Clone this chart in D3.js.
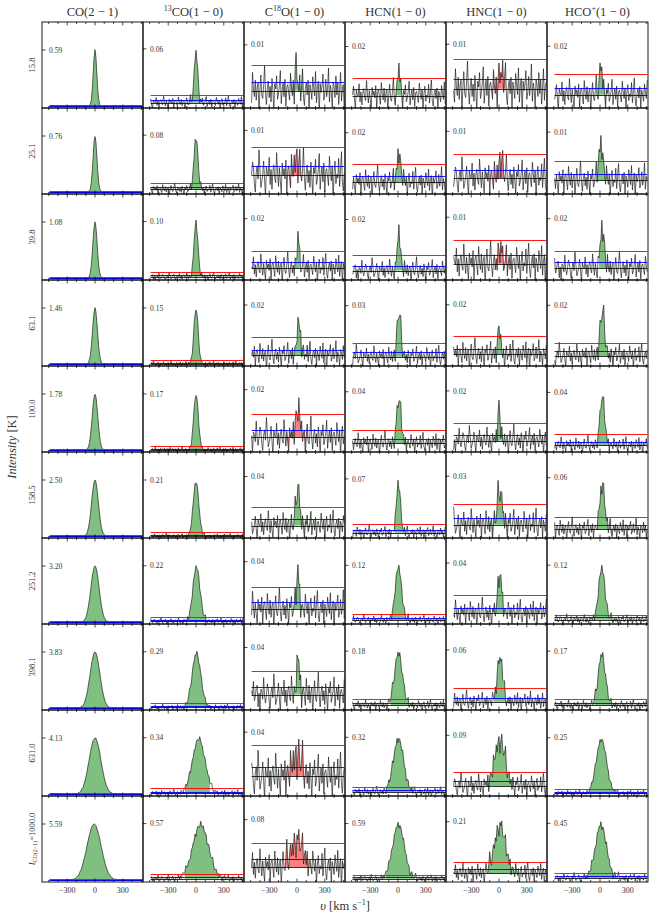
<!DOCTYPE html>
<html>
<head>
<meta charset="utf-8">
<script src="https://cdn.jsdelivr.net/npm/d3@7"></script>
<style>
  body { margin: 0; background: #fff; }
  svg text { font-family: "Liberation Serif", "DejaVu Serif", serif; font-weight: normal; fill: #333; }
</style>
</head>
<body>
<svg id="chart" width="656" height="921"></svg>
<script>
// column titles, pieces marked sup are raised
const columnTitles = [
  [{ text: "CO(2 − 1)" }],
  [{ text: "13", sup: true }, { text: "CO(1 − 0)" }],
  [{ text: "C" }, { text: "18", sup: true }, { text: "O(1 − 0)" }],
  [{ text: "HCN(1 − 0)" }],
  [{ text: "HNC(1 − 0)" }],
  [{ text: "HCO" }, { text: "+", sup: true }, { text: "(1 − 0)" }]
];

const rowLabels = ["15.8", "25.1", "39.8", "63.1", "100.0", "158.5", "251.2", "398.1", "631.0", "1000.0"];

// peak tick value per panel [row][column]
const peakLabels = [
  [0.59, 0.06, 0.01, 0.02, 0.01, 0.02],
  [0.76, 0.08, 0.01, 0.02, 0.01, 0.01],
  [1.08, 0.10, 0.02, 0.02, 0.01, 0.02],
  [1.46, 0.15, 0.02, 0.03, 0.02, 0.02],
  [1.78, 0.17, 0.02, 0.04, 0.02, 0.04],
  [2.50, 0.21, 0.04, 0.07, 0.03, 0.06],
  [3.20, 0.22, 0.04, 0.12, 0.04, 0.12],
  [3.83, 0.29, 0.04, 0.18, 0.06, 0.17],
  [4.13, 0.34, 0.04, 0.32, 0.09, 0.25],
  [5.59, 0.57, 0.08, 0.59, 0.21, 0.45]
];

// line amplitude as a fraction of the peak tick
const ampFrac = [
  [1.00, 0.95, 0.55, 0.60, 0.35, 0.60],
  [1.00, 0.97, 0.40, 0.60, 0.45, 0.75],
  [1.00, 0.98, 0.65, 0.75, 0.40, 0.80],
  [1.00, 0.98, 0.60, 0.85, 0.60, 0.85],
  [1.00, 0.98, 0.55, 0.85, 0.70, 0.90],
  [1.00, 0.98, 0.80, 0.95, 0.70, 0.90],
  [1.00, 0.98, 0.80, 0.97, 0.75, 0.95],
  [1.00, 0.98, 0.75, 0.97, 0.85, 0.95],
  [1.00, 0.98, 0.50, 0.97, 0.90, 0.97],
  [1.00, 0.98, 0.55, 0.98, 0.92, 0.97]
];

// rms (blue line) as a fraction of the peak
const rmsFrac = [
  [0.004, 0.050, 0.19, 0.127, 0.215, 0.138],
  [0.004, 0.042, 0.21, 0.120, 0.170, 0.140],
  [0.004, 0.030, 0.12, 0.093, 0.176, 0.120],
  [0.004, 0.020, 0.11, 0.090, 0.116, 0.100],
  [0.004, 0.020, 0.155, 0.085, 0.114, 0.065],
  [0.004, 0.018, 0.127, 0.050, 0.138, 0.084],
  [0.004, 0.025, 0.157, 0.037, 0.110, 0.040],
  [0.004, 0.024, 0.164, 0.043, 0.080, 0.043],
  [0.004, 0.025, 0.22, 0.037, 0.100, 0.025],
  [0.004, 0.030, 0.16, 0.030, 0.086, 0.037]
];

// red threshold line as a fraction of the peak
const redFrac = [
  [0.015, 0.14, 0.55, 0.35, 0.66, 0.42],
  [0.015, 0.12, 0.63, 0.36, 0.51, 0.40],
  [0.015, 0.085, 0.35, 0.30, 0.51, 0.34],
  [0.015, 0.07, 0.36, 0.26, 0.37, 0.25],
  [0.015, 0.06, 0.49, 0.25, 0.36, 0.22],
  [0.015, 0.067, 0.38, 0.16, 0.43, 0.23],
  [0.015, 0.08, 0.47, 0.117, 0.36, 0.09],
  [0.015, 0.073, 0.50, 0.11, 0.27, 0.116],
  [0.015, 0.087, 0.70, 0.087, 0.27, 0.07],
  [0.015, 0.09, 0.50, 0.06, 0.22, 0.086]
];

// line width (FWHM, km/s) and centre (km/s)
const lineFwhm = [
  [45, 45, 30, 30, 60, 40],
  [50, 50, 60, 45, 50, 55],
  [55, 50, 30, 40, 40, 50],
  [62, 55, 50, 50, 30, 60],
  [70, 60, 60, 55, 30, 60],
  [85, 70, 45, 50, 60, 60],
  [105, 90, 35, 80, 50, 80],
  [125, 110, 40, 100, 70, 90],
  [150, 160, 100, 130, 130, 130],
  [180, 200, 150, 150, 140, 140]
];

const lineCenter = [
  [0, 0, -10, 10, 20, 10],
  [0, 0, 0, 10, 20, 10],
  [0, 0, 10, 10, 10, 25],
  [0, 0, 20, 10, 0, 25],
  [0, 0, 10, 10, 0, 25],
  [0, 0, 10, 5, 10, 25],
  [0, 5, 10, 5, 10, 20],
  [0, 5, 10, 5, 10, 20],
  [0, 30, 0, 5, 10, 15],
  [-10, 50, 0, 5, 10, 10]
];

// shaded window: g = detection (green), r = tentative (red)
const fillKind = [
  ["g", "g", "g", "g", "r", "g"],
  ["g", "g", "r", "g", "r", "g"],
  ["g", "g", "g", "g", "r", "g"],
  ["g", "g", "g", "g", "g", "g"],
  ["g", "g", "r", "g", "g", "g"],
  ["g", "g", "g", "g", "g", "g"],
  ["g", "g", "g", "g", "g", "g"],
  ["g", "g", "g", "g", "g", "g"],
  ["g", "g", "r", "g", "g", "g"],
  ["g", "g", "r", "g", "g", "g"]
];

const windowLo = [
  [-90, -90, -70, -40, -85, -40],
  [-100, -100, -90, -75, -85, -45],
  [-110, -100, -30, -40, -40, -10],
  [-120, -110, -70, -65, -40, -40],
  [-140, -120, -120, -65, -40, -40],
  [-160, -140, -75, -40, -110, -40],
  [-200, -170, -40, -85, -65, -65],
  [-240, -200, -40, -85, -65, -65],
  [-280, -120, -120, -130, -130, -130],
  [-330, -120, -130, -130, -130, -150]
];

const windowHi = [
  [90, 90, 70, 60, 75, 80],
  [100, 100, 60, 85, 75, 80],
  [110, 110, 35, 85, 110, 135],
  [120, 120, 140, 115, 50, 160],
  [140, 130, 125, 115, 50, 180],
  [160, 150, 150, 75, 115, 160],
  [200, 180, 60, 160, 70, 180],
  [240, 210, 75, 185, 115, 160],
  [280, 150, 105, 160, 160, 180],
  [330, 250, 150, 185, 190, 180]
];

// unit-rms channel noise, read off as a typical baseline ripple
const noiseSeq = [
  0.5, -0.1, 1.7, -0.8, -0.3, 0.9, 1.2, -1.6, 0.2, -2.1,
  0.7, 0.4, -0.6, 2.2, -0.2, -1.1, 0.0, 1.4, 0.8, -0.9,
  -1.8, 0.3, 1.0, -0.4, 2.7, 0.6, -1.3, -0.7, 0.1, 1.5,
  -0.5, -2.3, 0.9, 0.2, -0.1, 1.9, -1.0, 0.6, -1.5, 0.4,
  1.1, -0.3, -0.8, 2.4, 0.3, -1.2, 0.8, -0.6, -1.9, 1.3,
  0.0, 0.7, -0.4, 1.6, -2.0, 0.5, 1.0, -0.2, -1.4, 2.1,
  0.2, -0.7, 1.2, -1.1, 0.4, 0.9, -2.6, 0.1, 1.8, -0.5,
  -0.9, 0.6, 2.9, -0.3, -1.6, 0.3, 1.1, -0.8, 0.5, -1.3,
  1.4, -0.1, -2.2, 0.8, 0.2, 1.7, -1.0, -0.4, 0.6, 2.3,
  -1.5, 0.0, 0.9, -0.7, 1.3, -1.8, 0.4, 0.7, -0.2, -1.1,
  2.0, 0.5, -0.6, 1.0, -2.4, 0.3, 1.5, -0.9, 0.1, -0.3,
  1.8, -1.2, 0.6, 2.5, -0.8, -1.7, 0.2, 0.9, -0.5, 1.2,
  -2.0, 0.7, 0.0, -1.0, 1.6, 0.4, -0.6, 2.2, -1.4, 0.3,
  1.1, -2.8, 0.8, -0.2, 0.5, 1.9, -1.1, -0.4, 1.3, -0.7,
  0.2, 2.6, -1.3, 0.6, -0.1, -1.9, 1.0, 0.4, -0.8, 1.7,
  -0.5, 0.9, -1.6, 0.1, 2.1, -1.2, 0.3, 0.7, -2.1, 1.4,
  -0.3, 0.8, -1.0
];

const majorTicks = [-300, 0, 300];
const minorTicks = [-500, -400, -200, -100, 100, 200, 400, 500];

const velocities = d3.range(-490, 511, 10);

const gridLeft = 42;
const gridTop = 22;
const panelW = 101;
const panelH = 86;

const svg = d3.select("#chart");
const x = d3.scaleLinear().domain([-572, 518]).range([0, panelW]);
const fmtPeak = d3.format(".2f");
const fmtTick = d3.format("d");

const buildSpectrum = (r, c) => {
  const peak = peakLabels[r][c];
  const amp = ampFrac[r][c] * peak;
  const rms = rmsFrac[r][c] * peak;
  const sig = lineFwhm[r][c] / 2.3548;
  const off = (r * 17 + c * 29) % 59;
  return velocities.map((v, i) => ({
    v,
    t: amp * Math.exp(-0.5 * ((v - lineCenter[r][c]) / sig) ** 2) + rms * noiseSeq[off + i]
  }));
};

const defs = svg.append("defs");
defs.append("clipPath").attr("id", "panel-clip")
  .append("rect").attr("width", panelW).attr("height", panelH);

rowLabels.forEach((rowLabel, r) => {
  columnTitles.forEach((title, c) => {
    const peak = peakLabels[r][c];
    const rms = rmsFrac[r][c] * peak;
    const y = d3.scaleLinear()
      .domain([-Math.max(2 * rms, 0.035 * peak), 1.5 * peak])
      .range([panelH, 0]);
    const spec = buildSpectrum(r, c);
    const g = svg.append("g").attr("transform", `translate(${gridLeft + c * panelW},${gridTop + r * panelH})`);
    const plot = g.append("g").attr("clip-path", "url(#panel-clip)");

    const win = spec.filter((d) => d.v >= windowLo[r][c] && d.v <= windowHi[r][c]);
    plot.append("path")
      .datum(win)
      .attr("d", d3.area().x((d) => x(d.v)).y0(y(0)).y1((d) => y(d.t)))
      .attr("fill", fillKind[r][c] === "g" ? "rgb(0,128,0)" : "rgb(255,0,0)")
      .attr("fill-opacity", 0.5);

    plot.append("path")
      .datum(spec)
      .attr("d", d3.line().x((d) => x(d.v)).y((d) => y(d.t)))
      .attr("fill", "none")
      .attr("stroke", "#111")
      .attr("stroke-opacity", 0.8)
      .attr("stroke-width", 0.8);

    const levels = [
      { val: 0, color: "#000", op: 0.8 },
      { val: rms, color: "blue", op: 0.9 },
      { val: redFrac[r][c] * peak, color: "red", op: 0.9 }
    ];
    levels.forEach((lv) => {
      const ly = Math.round(y(lv.val)) + 0.5;
      plot.append("line")
        .attr("x1", x(velocities[0])).attr("x2", x(velocities[velocities.length - 1]))
        .attr("y1", ly).attr("y2", ly)
        .attr("stroke", lv.color)
        .attr("stroke-opacity", lv.op)
        .attr("stroke-width", 1);
    });

    // ticks, all pointing in
    const tickData = majorTicks.map((v) => ({ v, len: 3.5 })).concat(minorTicks.map((v) => ({ v, len: 2 })));
    tickData.forEach((t) => {
      g.append("line").attr("x1", x(t.v)).attr("x2", x(t.v)).attr("y1", panelH).attr("y2", panelH - t.len)
        .attr("stroke", "#000").attr("stroke-width", 0.7);
      g.append("line").attr("x1", x(t.v)).attr("x2", x(t.v)).attr("y1", 0).attr("y2", t.len)
        .attr("stroke", "#000").attr("stroke-width", 0.7);
    });
    g.append("line").attr("x1", 0).attr("x2", 3.5).attr("y1", y(peak)).attr("y2", y(peak))
      .attr("stroke", "#000").attr("stroke-width", 0.7);
    g.append("text")
      .attr("x", 7).attr("y", y(peak)).attr("dy", "0.35em")
      .attr("font-size", 7.5)
      .text(fmtPeak(peak));

    g.append("rect")
      .attr("width", panelW).attr("height", panelH)
      .attr("fill", "none").attr("stroke", "#000").attr("stroke-width", 0.9);

    if (r === rowLabels.length - 1) {
      majorTicks.forEach((v) => {
        g.append("text")
          .attr("x", x(v)).attr("y", panelH + 11)
          .attr("text-anchor", "middle")
          .attr("font-size", 8)
          .text(v < 0 ? "−" + fmtTick(-v) : fmtTick(v));
      });
    }
  });

  // row label, rotated
  const lab = svg.append("text")
    .attr("transform", `translate(35,${gridTop + r * panelH + panelH / 2}) rotate(-90)`)
    .attr("text-anchor", "middle")
    .attr("font-size", 8.5);
  if (r === rowLabels.length - 1) {
    lab.append("tspan").attr("font-style", "italic").text("I");
    lab.append("tspan").attr("font-size", 6).attr("dy", 2).text("CO(2−1)");
    lab.append("tspan").attr("dy", -2).text("=" + rowLabel);
  } else {
    lab.text(rowLabel);
  }
});

columnTitles.forEach((title, c) => {
  const t = svg.append("text")
    .attr("x", gridLeft + c * panelW + panelW / 2)
    .attr("y", 16)
    .attr("text-anchor", "middle")
    .attr("font-size", 12.5);
  let raised = false;
  title.forEach((piece) => {
    const span = t.append("tspan").text(piece.text);
    if (piece.sup && !raised) {
      span.attr("font-size", 8).attr("dy", -5);
      raised = true;
    } else if (!piece.sup && raised) {
      span.attr("dy", 5);
      raised = false;
    }
  });
});

// axis titles
const yTitle = svg.append("text")
  .attr("transform", `translate(16,${gridTop + 5 * panelH - 5}) rotate(-90)`)
  .attr("text-anchor", "middle")
  .attr("font-size", 12.5);
yTitle.append("tspan").attr("font-style", "italic").text("Intensity");
yTitle.append("tspan").text(" [K]");

const xTitle = svg.append("text")
  .attr("x", gridLeft + 3 * panelW)
  .attr("y", 910)
  .attr("text-anchor", "middle")
  .attr("font-size", 12.5);
xTitle.append("tspan").attr("font-style", "italic").text("υ");
xTitle.append("tspan").text(" [km s");
xTitle.append("tspan").attr("font-size", 8).attr("dy", -5).text("−1");
xTitle.append("tspan").attr("dy", 5).text("]");
</script>
</body>
</html>
